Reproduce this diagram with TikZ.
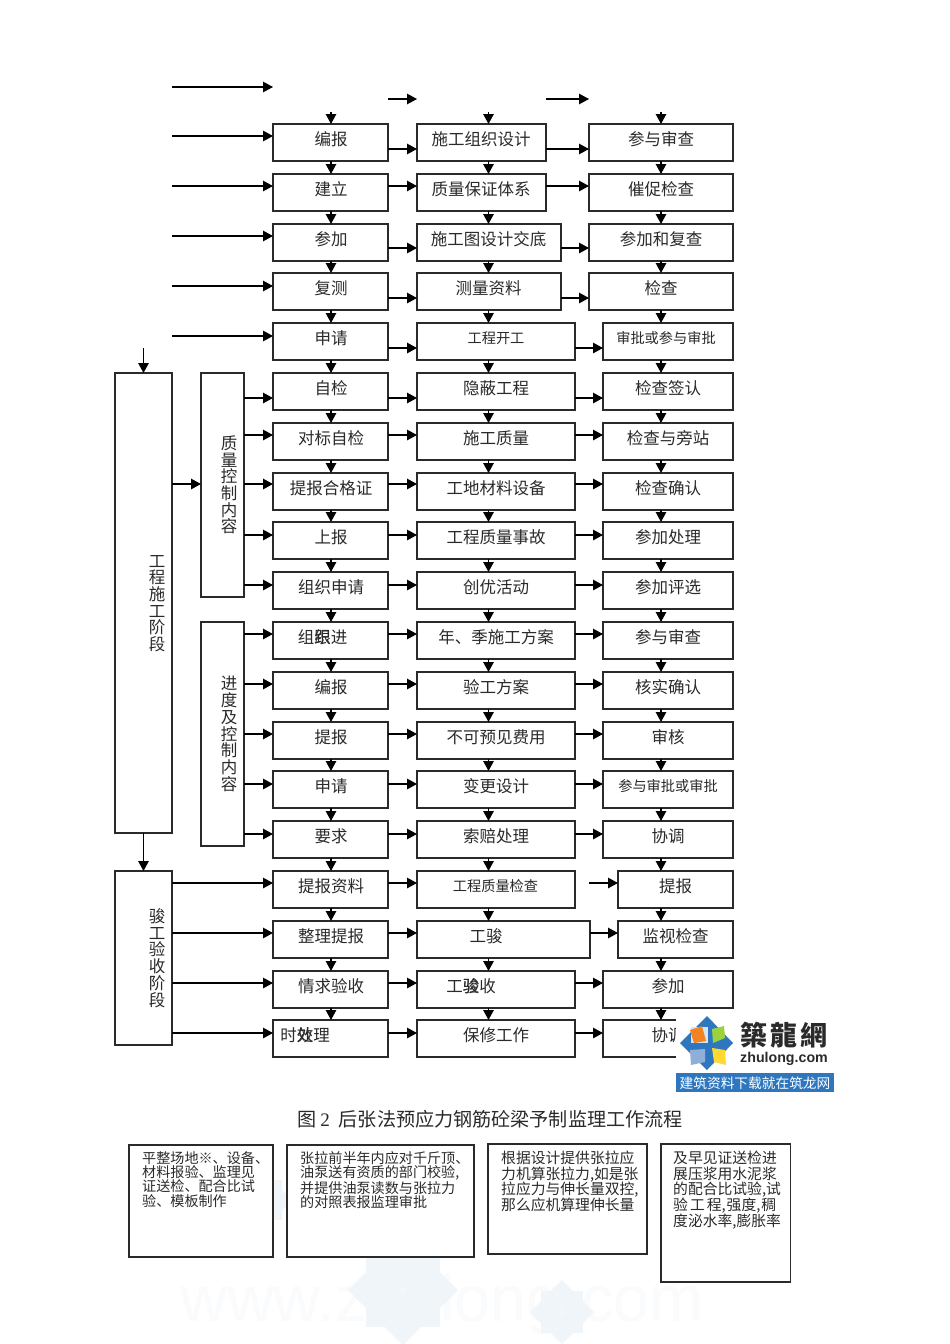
\documentclass[tikz,border=0pt]{standalone}
\usepackage{fontspec}
\setmainfont{Noto Sans CJK SC}
\newfontfamily\twfont{Noto Sans CJK TC}
\newfontfamily\lsfont{Liberation Sans}
\newfontfamily\lrfont{Liberation Serif}
\usetikzlibrary{arrows.meta}
\definecolor{ink}{HTML}{2A2A2A}
\definecolor{wm}{HTML}{F0F5FA}
\definecolor{wmt}{HTML}{F9FBFD}
\definecolor{zblue}{HTML}{2E77BE}
\definecolor{logoO}{HTML}{F58220}
\definecolor{logoG}{HTML}{9BD23C}
\definecolor{logoS}{HTML}{8FAFD8}
\definecolor{logoY}{HTML}{FFD92F}
\tikzset{
  box/.style={draw=ink,line width=1.3pt,fill=white,outer sep=0pt,inner sep=0pt},
  lab/.style={text=ink,font=\fontsize{16.5}{17}\selectfont,inner sep=0pt},
  smalllab/.style={text=ink,font=\fontsize{14.2}{15}\selectfont,inner sep=0pt},
  vlab/.style={text=ink,align=center,font=\fontsize{16.5}{16.7}\selectfont,inner sep=0pt},
  arr/.style={draw=black,line width=1.3pt,-{Triangle[length=10pt,width=10.5pt]}},
  notea/.style={text=ink,align=left,anchor=north west,inner sep=0pt,font=\fontsize{14.1}{14.35}\selectfont},
  noteb/.style={text=ink,align=left,anchor=north west,inner sep=0pt,font=\fontsize{14.8}{15.6}\selectfont},
}
% [label style]{name}{x1}{x2}{row top}{text x}{text}
\newcommand{\bx}[7][lab]{%
  \node[box,minimum width={#4-#3},minimum height=37pt] (#2) at ({(#3+#4)/2},{#5+18.5}) {};
  \node[#1] (#2t) at (#6,{#5+15}) {#7};
}
% name x1 y1 x2 y2
\newcommand{\rbx}[5]{%
  \node[box,minimum width={#4-#2},minimum height={#5-#3}] (#1) at ({(#2+#4)/2},{(#3+#5)/2}) {};
}
\newcommand{\stackone}[2]{\rlap{#1}#2}
\newcommand{\wmstar}[3]{%
  \fill[wm] (#1-#3*0.67,#2-#3*0.67) rectangle (#1+#3*0.67,#2+#3*0.67);
  \fill[wm] (#1-#3,#2) -- (#1,#2-#3) -- (#1+#3,#2) -- (#1,#2+#3) -- cycle;
  \draw[white,line width=0.5pt,densely dotted] (#1-#3*0.6,#2-#3*0.2) -- (#1+#3*0.6,#2+#3*0.2) (#1-#3*0.6,#2+#3*0.2) -- (#1+#3*0.6,#2-#3*0.2) (#1-#3*0.2,#2-#3*0.6) -- (#1+#3*0.2,#2+#3*0.6) (#1+#3*0.2,#2-#3*0.6) -- (#1-#3*0.2,#2+#3*0.6);
}
\begin{document}
\begin{tikzpicture}[x=1pt,y=-1pt]
\useasboundingbox (0,0) rectangle (950,1344);
\fill[white] (0,0) rectangle (950,1344);
% faint watermark
\node[text=wmt,inner sep=0pt,font=\lsfont\fontsize{65}{65}\selectfont] (wmtext) at (442,1305) {www.zhulong.com};
\wmstar{403}{1290}{55}
\wmstar{562}{1312}{32}
\wmstar{262}{1200}{30}

% column A
\bx{a1}{273}{388}{124}{331}{编报}
\bx{a2}{273}{388}{174}{331}{建立}
\bx{a3}{273}{388}{224}{331}{参加}
\bx{a4}{273}{388}{273}{331}{复测}
\bx{a5}{273}{388}{323}{331}{申请}
\bx{a6}{273}{388}{373}{331}{自检}
\bx{a7}{273}{388}{423}{331}{对标自检}
\bx{a8}{273}{388}{473}{331}{提报合格证}
\bx{a9}{273}{388}{522}{331}{上报}
\bx{a10}{273}{388}{572}{331}{组织申请}
\bx{a11}{273}{388}{622}{322.5}{组\stackone{织}{跟}进}
\bx{a12}{273}{388}{672}{331}{编报}
\bx{a13}{273}{388}{722}{331}{提报}
\bx{a14}{273}{388}{771}{331}{申请}
\bx{a15}{273}{388}{821}{331}{要求}
\bx{a16}{273}{388}{871}{331}{提报资料}
\bx{a17}{273}{388}{921}{331}{整理提报}
\bx{a18}{273}{388}{971}{331}{情求验收}
\bx{a19}{273}{388}{1020}{305}{时\stackone{效}{处}理}
% column B
\bx{b1}{417}{546}{124}{481}{施工组织设计}
\bx{b2}{417}{546}{174}{481}{质量保证体系}
\bx{b3}{417}{561}{224}{488.5}{施工图设计交底}
\bx{b4}{417}{561}{273}{488.5}{测量资料}
\bx[smalllab]{b5}{417}{575}{323}{496}{工程开工}
\bx{b6}{417}{575}{373}{496}{隐蔽工程}
\bx{b7}{417}{575}{423}{496}{施工质量}
\bx{b8}{417}{575}{473}{496}{工地材料设备}
\bx{b9}{417}{575}{522}{496}{工程质量事故}
\bx{b10}{417}{575}{572}{496}{创优活动}
\bx{b11}{417}{575}{622}{496}{年、季施工方案}
\bx{b12}{417}{575}{672}{496}{验工方案}
\bx{b13}{417}{575}{722}{496}{不可预见费用}
\bx{b14}{417}{575}{771}{496}{变更设计}
\bx{b15}{417}{575}{821}{496}{索赔处理}
\bx[smalllab]{b16}{417}{575}{871}{495.5}{工程质量检查}
\bx{b17}{417}{590}{921}{486}{工骏}
\bx{b18}{417}{575}{971}{471}{工\stackone{验}{骏}收}
\bx{b19}{417}{575}{1020}{496}{保修工作}
% column C
\bx{c1}{589}{733}{124}{661}{参与审查}
\bx{c2}{589}{733}{174}{661}{催促检查}
\bx{c3}{589}{733}{224}{661}{参加和复查}
\bx{c4}{589}{733}{273}{661}{检查}
\bx[smalllab]{c5}{603}{733}{323}{666}{审批或参与审批}
\bx{c6}{603}{733}{373}{668}{检查签认}
\bx{c7}{603}{733}{423}{668}{检查与旁站}
\bx{c8}{603}{733}{473}{668}{检查确认}
\bx{c9}{603}{733}{522}{668}{参加处理}
\bx{c10}{603}{733}{572}{668}{参加评选}
\bx{c11}{603}{733}{622}{668}{参与审查}
\bx{c12}{603}{733}{672}{668}{核实确认}
\bx{c13}{603}{733}{722}{668}{审核}
\bx[smalllab]{c14}{603}{733}{771}{668}{参与审批或审批}
\bx{c15}{603}{733}{821}{668}{协调}
\bx{c16}{618}{733}{871}{675.5}{提报}
\bx{c17}{618}{733}{921}{675.5}{监视检查}
\bx{c18}{603}{733}{971}{668}{参加}
\bx{c19}{603}{733}{1020}{668}{协调}

% stage boxes
\rbx{stA}{115}{373}{172}{833}
\rbx{stB}{115}{871}{172}{1045}
\rbx{qual}{201}{373}{244}{597}
\rbx{prog}{201}{622}{244}{846}
\node[vlab] (stAt) at (157,603.5) {工\\程\\施\\工\\阶\\段};
\node[vlab] (stBt) at (157,958) {骏\\工\\验\\收\\阶\\段};
\node[vlab] (qualt) at (229,485) {质\\量\\控\\制\\内\\容};
\node[vlab] (progt) at (229,734) {进\\度\\及\\控\\制\\内\\容};

% guide coordinates
\coordinate (vA) at (331,0);
\coordinate (vB) at (488.5,0);
\coordinate (vC) at (661,0);
\coordinate (stub) at (0,112);
\foreach \n/\y in {1/149,2/186,3/248,4/298,5/348,6/398,7/435,8/484,9/535,10/585,11/634,12/684,13/734,14/784,15/834,16/883,17/933,18/983,19/1033}
  \coordinate (h\n) at (0,\y);

% vertical flow
\foreach \c/\v in {a/vA,b/vB,c/vC}{
  \draw[arr] (\v |- stub) -- (\c1.north -| \v);
  \foreach \n [evaluate=\n as \m using int(\n+1)] in {1,...,18}
    \draw[arr] (\c\n.south -| \v) -- (\c\m.north -| \v);
}
% horizontal flow
\foreach \n in {1,...,19}
  \draw[arr] (a\n.east |- h\n) -- (b\n.west |- h\n);
\foreach \n in {1,...,15,17,18,19}
  \draw[arr] (b\n.east |- h\n) -- (c\n.west |- h\n);
\coordinate (s16) at (589,883);
\draw[arr] (s16) -- (c16.west |- s16);
% inputs from left
\coordinate (in0) at (172,87);
\coordinate (in0e) at (273,87);
\draw[arr] (in0) -- (in0e);
\foreach \n/\y in {1/136,2/186,3/236,4/286,5/336}{
  \coordinate (in\n) at (172,\y);
  \draw[arr] (in\n) -- (a\n.west |- in\n);
}
\coordinate (t1s) at (388,99);
\coordinate (t1e) at (417,99);
\coordinate (t2s) at (546,99);
\coordinate (t2e) at (589,99);
\draw[arr] (t1s) -- (t1e);
\draw[arr] (t2s) -- (t2e);
% stage connectors
\coordinate (stS) at (143.5,348);
\draw[arr] (stS) -- (stA.north);
\draw[arr] (stA.south) -- (stB.north);
\coordinate (qy) at (0,484);
\draw[arr] (stA.east |- qy) -- (qual.west |- qy);
\foreach \n in {6,...,10}
  \draw[arr] (qual.east |- h\n) -- (a\n.west |- h\n);
\foreach \n in {11,...,15}
  \draw[arr] (prog.east |- h\n) -- (a\n.west |- h\n);
\foreach \n in {16,...,19}
  \draw[arr] (stB.east |- h\n) -- (a\n.west |- h\n);

% caption
\node[text=ink,inner sep=0pt,anchor=west,font=\fontsize{19.1}{20}\selectfont] (cap) at (297,1119) {图\hspace{4pt}{\lrfont 2}\hspace{9pt}后张法预应力钢筋砼梁予制监理工作流程};

% notes
\rbx{n1}{129}{1145}{273}{1257}
\rbx{n2}{287}{1145}{474}{1257}
\rbx{n3}{488}{1144}{647}{1254}
\rbx{n4}{661}{1144}{790.5}{1282}
\node[notea] (n1t) at (142,1151) {平整场地※、设备、\\材料报验、监理见\\证送检、配合比试\\验、模板制作};
\node[notea] (n2t) at (300,1151) {张拉前半年内应对千斤顶、\\油泵送有资质的部门校验,\\并提供油泵读数与张拉力\\的对照表报监理审批};
\node[noteb] (n3t) at (501,1151) {根据设计提供张拉应\\力机算张拉力,如是张\\拉应力与伸长量双控,\\那么应机算理伸长量};
\node[noteb] (n4t) at (673,1151) {及早见证送检进\\展压浆用水泥浆\\的配合比试验,试\\验\hspace{2pt}工\hspace{2pt}程,\hspace{1pt}强度,\hspace{1pt}稠\\度泌水率,膨胀率};

% logo
\fill[white] (676,1015) rectangle (834,1073);
\fill[zblue] (676,1073) rectangle (834,1092);
\fill[zblue] (680,1043) -- (707,1016) -- (733,1043) -- (707,1070) -- cycle;
\fill[white!80!zblue] (691,1027) -- (708,1027) -- (708,1043) -- (691,1043) -- cycle;
\fill[logoO] (690,1030) -- (702,1026) -- (706,1041) -- (694,1043) -- cycle;
\fill[logoG] (712,1029) -- (724,1026) -- (725,1038) -- (713,1043) -- cycle;
\fill[logoS] (690,1050) -- (705,1049) -- (705,1062) -- (691,1065) -- cycle;
\fill[logoY] (712,1048) -- (725,1050) -- (726,1065) -- (714,1062) -- cycle;
\node[inner sep=0pt,text=ink,font=\twfont\bfseries\fontsize{27}{27}\selectfont] (lg1) at (784,1035) {築\hspace{3pt}龍\hspace{3pt}網};
\node[inner sep=0pt,text=ink,font=\lsfont\bfseries\fontsize{14.2}{15}\selectfont] (lg2) at (784,1059) {zhulong.com};
\node[inner sep=0pt,text=white,font=\fontsize{13.7}{14}\selectfont] (lg3) at (755,1083) {建筑资料下载就在筑龙网};
\end{tikzpicture}
\end{document}
